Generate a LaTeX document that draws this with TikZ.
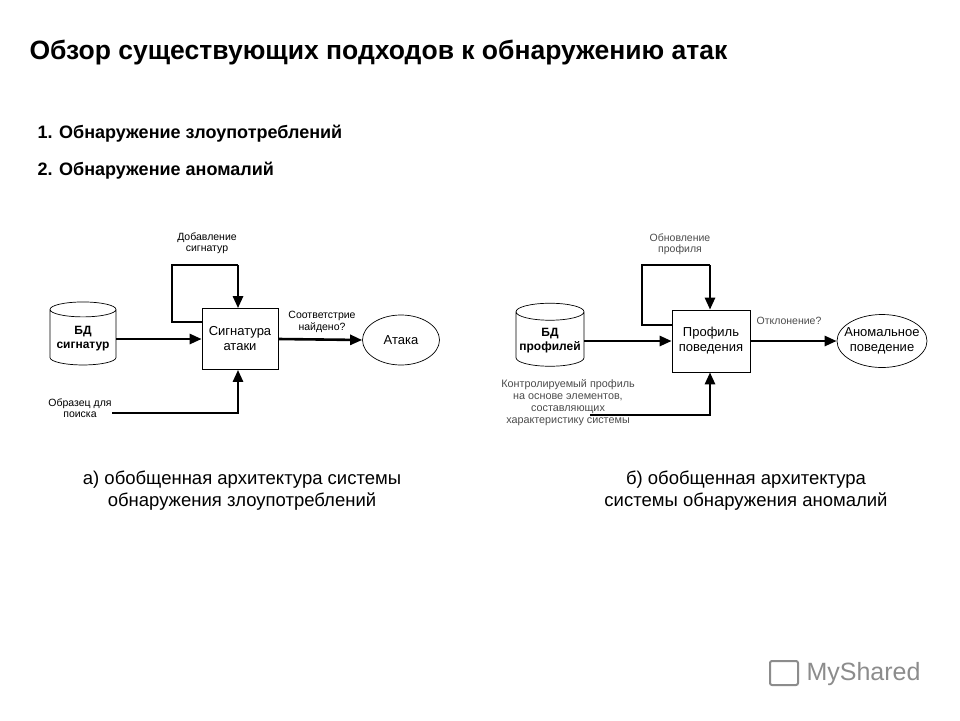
\documentclass[tikz,border=0pt]{standalone}
\usepackage{fontspec}
\setmainfont{Liberation Sans}
\usetikzlibrary{arrows.meta,shapes.geometric}
\begin{document}
\begin{tikzpicture}[x=1pt,y=-1pt,
  ln/.style={line width=2.6pt},
  arr/.style={ln,-{Triangle[length=12pt,width=10pt]}},
  lbl/.style={font=\fontsize{10.5}{11.5}\selectfont,align=center,inner sep=0},
  boxn/.style={draw,line width=0.7pt,minimum width=76pt,minimum height=61pt,font=\fontsize{13}{15}\selectfont,align=center},
  ell/.style={draw,line width=0.7pt,ellipse,font=\fontsize{13}{15}\selectfont,align=center,inner sep=0},
  cyl/.style={draw,line width=0.7pt,cylinder,shape border rotate=90,aspect=0.25,minimum width=66pt,minimum height=63pt,font=\bfseries\fontsize{12}{14}\selectfont,align=center}]
\useasboundingbox (0,0) rectangle (960,720);
\fill[white] (0,0) rectangle (960,720);
\node[anchor=west,font=\bfseries\fontsize{26.5}{30}\selectfont] (title) at (26,53) {Обзор существующих подходов к обнаружению атак};
\node[anchor=west,font=\bfseries\fontsize{18}{21}\selectfont] (l1) at (34,134) {1. Обнаружение злоупотреблений};
\node[anchor=west,font=\bfseries\fontsize{18}{21}\selectfont] (l2) at (34,171) {2. Обнаружение аномалий};
% left
\node[cyl] (db1) at (83,339) {БД\\сигнатур};
\node[boxn] (sig) at (240,339) {Сигнатура\\атаки};
\node[ell,minimum width=77pt,minimum height=50pt] (atk) at (401,340) {Атака};
\coordinate (a1) at (172,322);
\coordinate (a2) at (172,265);
\coordinate (a3) at (238,265);
\coordinate (b1) at (112,413);
\coordinate (b2) at (238,413);
\draw[ln] (sig.west|-a1) -- (a1) -- (a2) -- (a3);
\draw[arr] (a3) -- (sig.north-|a3);
\draw[arr] (db1.east|-sig) -- (sig.west);
\draw[arr] (b1) -- (b2) -- (sig.south-|b2);
\draw[arr] (sig.east) -- (atk.west);
\node[lbl] (t1) at (207,243) {Добавление\\сигнатур};
\node[lbl] (t2) at (322,322) {Соответстрие\\найдено?};
\node[lbl] (t3) at (80,408) {Образец для\\поиска};
% right
\node[cyl] (db2) at (550,341) {БД\\профилей};
\node[boxn,minimum width=78pt,minimum height=62pt] (prof) at (711,341) {Профиль\\поведения};
\node[ell,inner xsep=-7pt,inner ysep=-2pt,minimum width=90pt,minimum height=53pt] (ano) at (882,341) {Аномальное\\поведение};
\coordinate (c1) at (642,325);
\coordinate (c2) at (642,265);
\coordinate (c3) at (710,265);
\coordinate (d1) at (590,415);
\coordinate (d2) at (710,415);
\draw[ln] (prof.west|-c1) -- (c1) -- (c2) -- (c3);
\draw[arr] (c3) -- (prof.north-|c3);
\draw[arr] (db2.east|-prof) -- (prof.west);
\draw[arr] (d1) -- (d2) -- (prof.south-|d2);
\draw[arr] (prof.east) -- (ano.west);
\node[lbl,text=black!70] (u1) at (680,244) {Обновление\\профиля};
\node[lbl,text=black!70] (u2) at (789,321) {Отклонение?};
\node[lbl,text=black!70,font=\fontsize{10.8}{12}\selectfont] (u3) at (568,403) {Контролируемый профиль\\на основе элементов,\\составляющих\\характеристику системы};
% captions
\node[align=center,font=\fontsize{18.5}{22}\selectfont] (cap1) at (242,491) {а) обобщенная архитектура системы\\обнаружения злоупотреблений};
\node[align=center,font=\fontsize{18.5}{22}\selectfont] (cap2) at (746,491) {б) обобщенная архитектура\\системы обнаружения аномалий};
\node[anchor=west,text=black!45,font=\fontsize{25}{27}\selectfont] (wm) at (803,674) {MyShared};
\draw[black!45,line width=2pt,rounded corners=2pt] (770,661) rectangle (798,685);
\end{tikzpicture}
\end{document}
